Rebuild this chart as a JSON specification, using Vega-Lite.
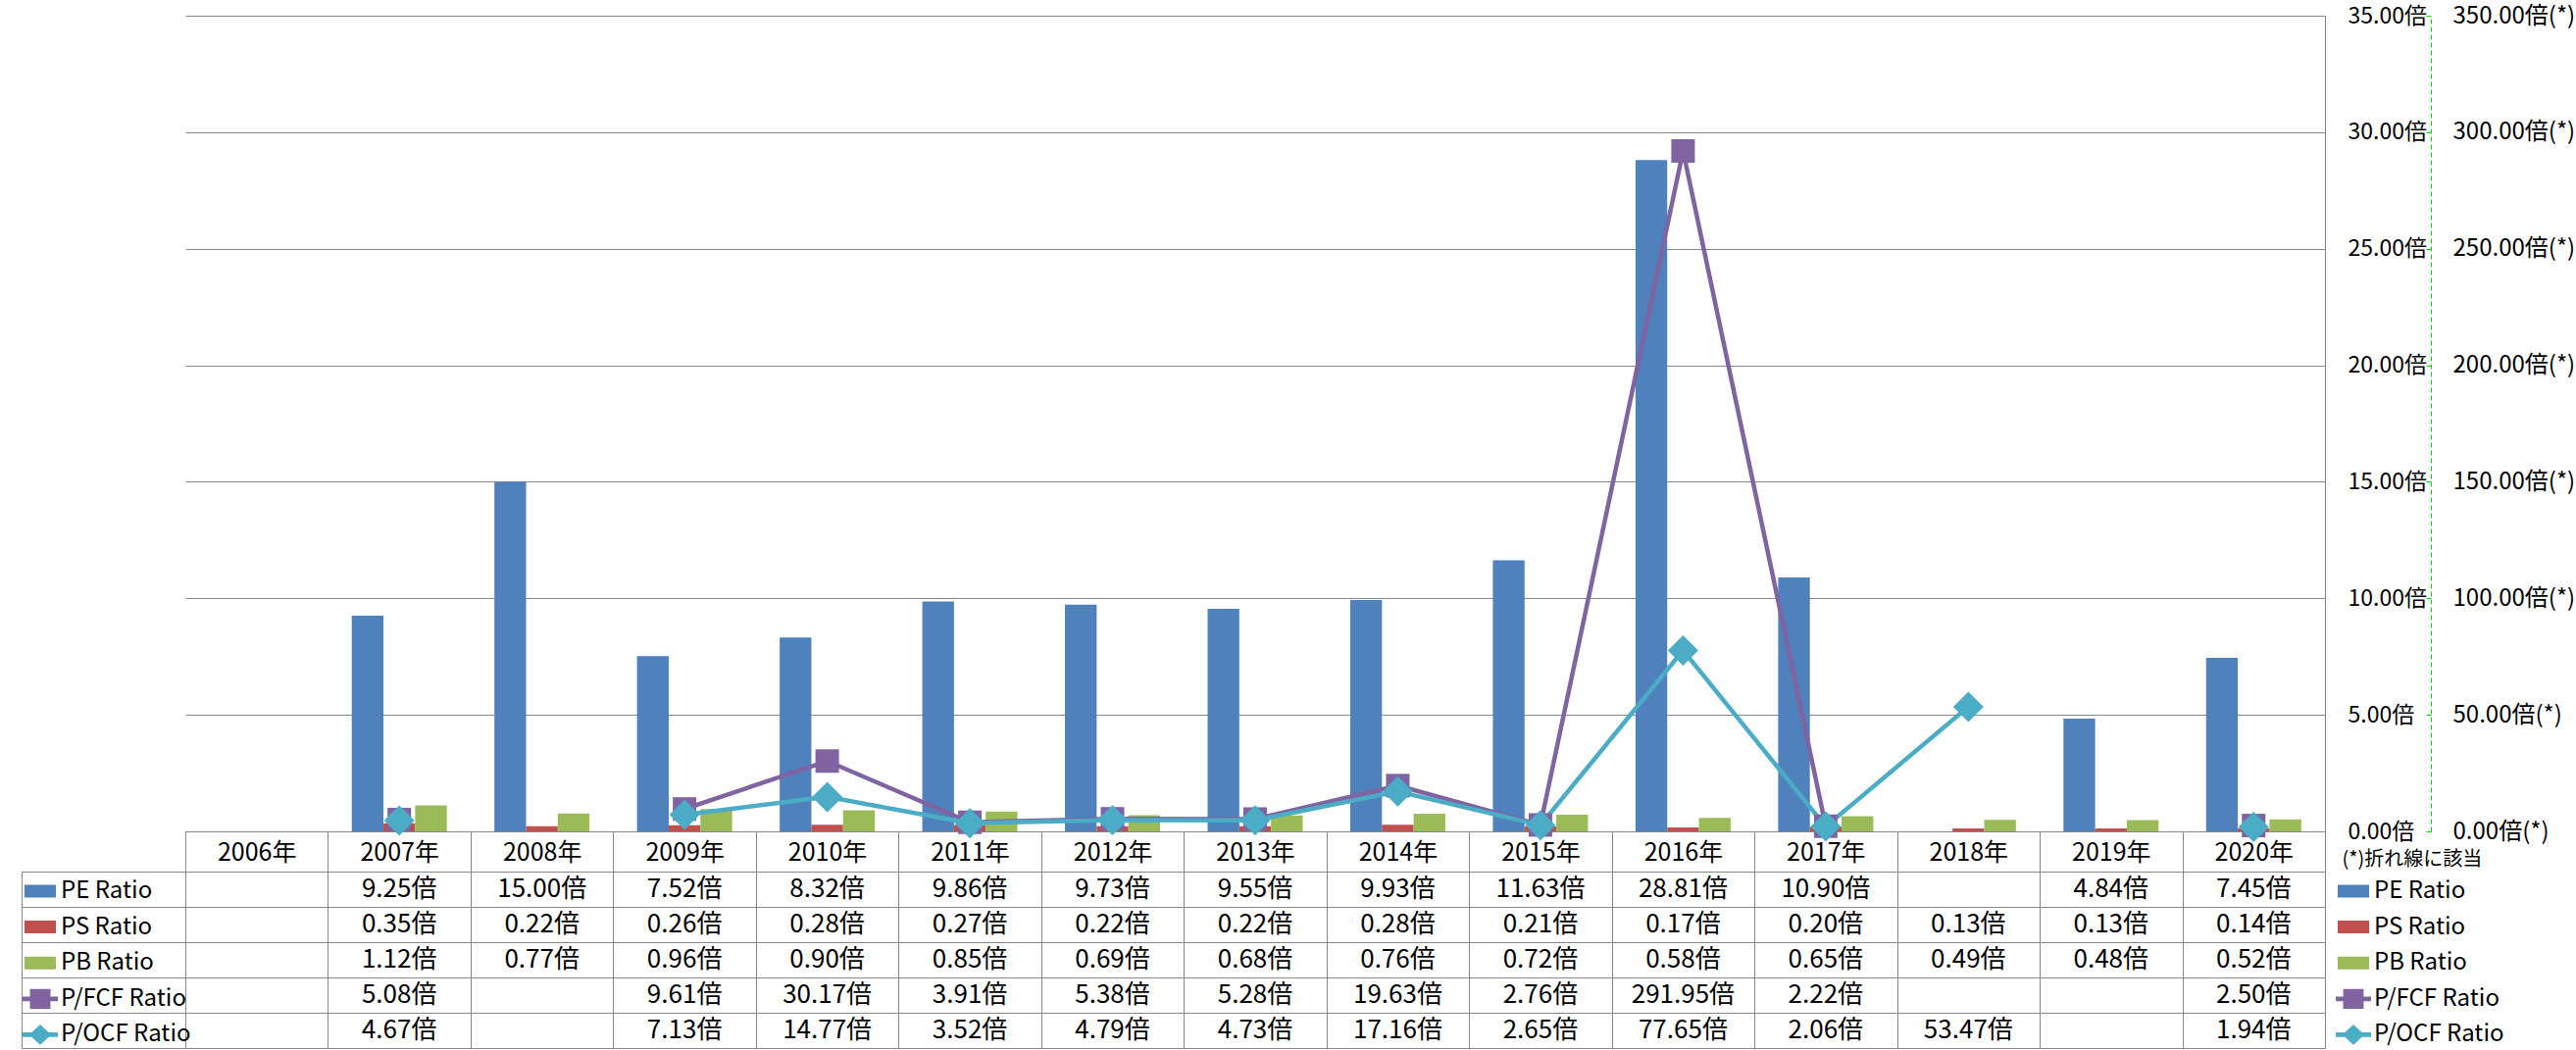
{
  "$schema": "https://vega.github.io/schema/vega-lite/v6.json",
  "padding": {"left": 21, "top": 4, "right": 5, "bottom": 2},
  "background": "white",
  "config": {
    "font": "Noto Sans CJK JP",
    "view": {"stroke": null},
    "axis": {"labelColor": "#000000", "titleColor": "#000000"},
    "legend": {"labelColor": "#000000"}
  },
  "datasets": {
    "r": [
      {"year": "2006年", "series": "PE Ratio", "value": null},
      {"year": "2006年", "series": "PS Ratio", "value": null},
      {"year": "2006年", "series": "PB Ratio", "value": null},
      {"year": "2006年", "series": "P/FCF Ratio", "value": null},
      {"year": "2006年", "series": "P/OCF Ratio", "value": null},
      {"year": "2007年", "series": "PE Ratio", "value": 9.25, "label": "9.25倍"},
      {"year": "2007年", "series": "PS Ratio", "value": 0.35, "label": "0.35倍"},
      {"year": "2007年", "series": "PB Ratio", "value": 1.12, "label": "1.12倍"},
      {"year": "2007年", "series": "P/FCF Ratio", "value": 5.08, "label": "5.08倍"},
      {"year": "2007年", "series": "P/OCF Ratio", "value": 4.67, "label": "4.67倍"},
      {"year": "2008年", "series": "PE Ratio", "value": 15.00, "label": "15.00倍"},
      {"year": "2008年", "series": "PS Ratio", "value": 0.22, "label": "0.22倍"},
      {"year": "2008年", "series": "PB Ratio", "value": 0.77, "label": "0.77倍"},
      {"year": "2008年", "series": "P/FCF Ratio", "value": null},
      {"year": "2008年", "series": "P/OCF Ratio", "value": null},
      {"year": "2009年", "series": "PE Ratio", "value": 7.52, "label": "7.52倍"},
      {"year": "2009年", "series": "PS Ratio", "value": 0.26, "label": "0.26倍"},
      {"year": "2009年", "series": "PB Ratio", "value": 0.96, "label": "0.96倍"},
      {"year": "2009年", "series": "P/FCF Ratio", "value": 9.61, "label": "9.61倍"},
      {"year": "2009年", "series": "P/OCF Ratio", "value": 7.13, "label": "7.13倍"},
      {"year": "2010年", "series": "PE Ratio", "value": 8.32, "label": "8.32倍"},
      {"year": "2010年", "series": "PS Ratio", "value": 0.28, "label": "0.28倍"},
      {"year": "2010年", "series": "PB Ratio", "value": 0.90, "label": "0.90倍"},
      {"year": "2010年", "series": "P/FCF Ratio", "value": 30.17, "label": "30.17倍"},
      {"year": "2010年", "series": "P/OCF Ratio", "value": 14.77, "label": "14.77倍"},
      {"year": "2011年", "series": "PE Ratio", "value": 9.86, "label": "9.86倍"},
      {"year": "2011年", "series": "PS Ratio", "value": 0.27, "label": "0.27倍"},
      {"year": "2011年", "series": "PB Ratio", "value": 0.85, "label": "0.85倍"},
      {"year": "2011年", "series": "P/FCF Ratio", "value": 3.91, "label": "3.91倍"},
      {"year": "2011年", "series": "P/OCF Ratio", "value": 3.52, "label": "3.52倍"},
      {"year": "2012年", "series": "PE Ratio", "value": 9.73, "label": "9.73倍"},
      {"year": "2012年", "series": "PS Ratio", "value": 0.22, "label": "0.22倍"},
      {"year": "2012年", "series": "PB Ratio", "value": 0.69, "label": "0.69倍"},
      {"year": "2012年", "series": "P/FCF Ratio", "value": 5.38, "label": "5.38倍"},
      {"year": "2012年", "series": "P/OCF Ratio", "value": 4.79, "label": "4.79倍"},
      {"year": "2013年", "series": "PE Ratio", "value": 9.55, "label": "9.55倍"},
      {"year": "2013年", "series": "PS Ratio", "value": 0.22, "label": "0.22倍"},
      {"year": "2013年", "series": "PB Ratio", "value": 0.68, "label": "0.68倍"},
      {"year": "2013年", "series": "P/FCF Ratio", "value": 5.28, "label": "5.28倍"},
      {"year": "2013年", "series": "P/OCF Ratio", "value": 4.73, "label": "4.73倍"},
      {"year": "2014年", "series": "PE Ratio", "value": 9.93, "label": "9.93倍"},
      {"year": "2014年", "series": "PS Ratio", "value": 0.28, "label": "0.28倍"},
      {"year": "2014年", "series": "PB Ratio", "value": 0.76, "label": "0.76倍"},
      {"year": "2014年", "series": "P/FCF Ratio", "value": 19.63, "label": "19.63倍"},
      {"year": "2014年", "series": "P/OCF Ratio", "value": 17.16, "label": "17.16倍"},
      {"year": "2015年", "series": "PE Ratio", "value": 11.63, "label": "11.63倍"},
      {"year": "2015年", "series": "PS Ratio", "value": 0.21, "label": "0.21倍"},
      {"year": "2015年", "series": "PB Ratio", "value": 0.72, "label": "0.72倍"},
      {"year": "2015年", "series": "P/FCF Ratio", "value": 2.76, "label": "2.76倍"},
      {"year": "2015年", "series": "P/OCF Ratio", "value": 2.65, "label": "2.65倍"},
      {"year": "2016年", "series": "PE Ratio", "value": 28.81, "label": "28.81倍"},
      {"year": "2016年", "series": "PS Ratio", "value": 0.17, "label": "0.17倍"},
      {"year": "2016年", "series": "PB Ratio", "value": 0.58, "label": "0.58倍"},
      {"year": "2016年", "series": "P/FCF Ratio", "value": 291.95, "label": "291.95倍"},
      {"year": "2016年", "series": "P/OCF Ratio", "value": 77.65, "label": "77.65倍"},
      {"year": "2017年", "series": "PE Ratio", "value": 10.90, "label": "10.90倍"},
      {"year": "2017年", "series": "PS Ratio", "value": 0.20, "label": "0.20倍"},
      {"year": "2017年", "series": "PB Ratio", "value": 0.65, "label": "0.65倍"},
      {"year": "2017年", "series": "P/FCF Ratio", "value": 2.22, "label": "2.22倍"},
      {"year": "2017年", "series": "P/OCF Ratio", "value": 2.06, "label": "2.06倍"},
      {"year": "2018年", "series": "PE Ratio", "value": null},
      {"year": "2018年", "series": "PS Ratio", "value": 0.13, "label": "0.13倍"},
      {"year": "2018年", "series": "PB Ratio", "value": 0.49, "label": "0.49倍"},
      {"year": "2018年", "series": "P/FCF Ratio", "value": null},
      {"year": "2018年", "series": "P/OCF Ratio", "value": 53.47, "label": "53.47倍"},
      {"year": "2019年", "series": "PE Ratio", "value": 4.84, "label": "4.84倍"},
      {"year": "2019年", "series": "PS Ratio", "value": 0.13, "label": "0.13倍"},
      {"year": "2019年", "series": "PB Ratio", "value": 0.48, "label": "0.48倍"},
      {"year": "2019年", "series": "P/FCF Ratio", "value": null},
      {"year": "2019年", "series": "P/OCF Ratio", "value": null},
      {"year": "2020年", "series": "PE Ratio", "value": 7.45, "label": "7.45倍"},
      {"year": "2020年", "series": "PS Ratio", "value": 0.14, "label": "0.14倍"},
      {"year": "2020年", "series": "PB Ratio", "value": 0.52, "label": "0.52倍"},
      {"year": "2020年", "series": "P/FCF Ratio", "value": 2.50, "label": "2.50倍"},
      {"year": "2020年", "series": "P/OCF Ratio", "value": 1.94, "label": "1.94倍"}
    ]
  },
  "spacing": 41,
  "bounds": "flush",
  "resolve": {"scale": {"color": "independent"}, "legend": {"color": "independent"}},
  "vconcat": [
    {
      "width": 2182,
      "height": 832,
      "data": {"name": "r"},
      "encoding": {
        "x": {
          "field": "year", "type": "nominal", "sort": null,
          "scale": {"domain": ["2006年","2007年","2008年","2009年","2010年","2011年","2012年","2013年","2014年","2015年","2016年","2017年","2018年","2019年","2020年"], "paddingInner": 0, "paddingOuter": 0},
          "axis": {
            "orient": "bottom", "title": "(*)折れ線に該当", "titleX": 2199, "titleY": 28, "titleAlign": "left", "titleBaseline": "middle", "titleAnchor": "start",
            "titleFontSize": 20, "titleFontWeight": "normal",
            "domain": true, "domainColor": "#868686", "domainWidth": 1,
            "ticks": true, "tickBand": "extent", "tickSize": 41, "tickColor": "#868686", "tickWidth": 1,
            "labelFontSize": 25, "labelBaseline": "middle", "labelPadding": -20, "labelAngle": 0, "labelOverlap": false, "labelBound": false,
            "grid": false
          }
        },
        "color": {
          "field": "series", "type": "nominal",
          "scale": {"domain": ["PE Ratio","PS Ratio","PB Ratio","P/FCF Ratio","P/OCF Ratio"], "range": ["#4F81BD","#C0504D","#9BBB59","#8064A2","#4BACC6"]},
          "legend": {
            "orient": "none", "legendX": 2193, "legendY": 875, "title": null,
            "symbolSize": 1296, "symbolStrokeWidth": 0, "rowPadding": 6.6, "labelOffset": 3, "labelFontSize": 24, "labelLimit": 0,
            "encode": {"symbols": {"update": {
              "shape": {"signal": "datum.value === 'P/FCF Ratio' ? 'M-1,-0.13H1V0.13H-1Z M-0.58,-0.56H0.58V0.56H-0.58Z' : datum.value === 'P/OCF Ratio' ? 'M-1,-0.13H1V0.13H-1Z M0,-0.58L0.62,0L0,0.58L-0.62,0Z' : 'M-0.89,-0.36H0.89V0.36H-0.89Z'"},
              "fill": {"signal": "datum.value === 'PE Ratio' ? '#4F81BD' : datum.value === 'PS Ratio' ? '#C0504D' : datum.value === 'PB Ratio' ? '#9BBB59' : datum.value === 'P/FCF Ratio' ? '#8064A2' : '#4BACC6'"},
              "strokeWidth": {"value": 0},
              "opacity": {"value": 1}
            }}}
          }
        }
      },
      "layer": [
        {
          "transform": [{"filter": {"field": "series", "oneOf": ["PE Ratio","PS Ratio","PB Ratio"]}}],
          "mark": {"type": "bar"},
          "encoding": {
            "xOffset": {"field": "series", "type": "nominal", "sort": null, "scale": {"domain": ["PE Ratio","PS Ratio","PB Ratio"], "paddingInner": 0, "paddingOuter": 0.75}},
            "y": {
              "field": "value", "type": "quantitative",
              "scale": {"domain": [0, 35], "nice": false, "zero": true},
              "axis": {
                "orient": "right", "values": [0,5,10,15,20,25,30,35], "title": null,
                "grid": true, "gridColor": "#868686", "gridWidth": 1,
                "domain": true, "domainColor": "#868686", "domainWidth": 1,
                "ticks": false, "tickSize": 0,
                "labelPadding": 23, "labelAlign": "left", "labelFontSize": 23,
                "labelExpr": "format(datum.value, '.2f') + '倍'"
              }
            }
          }
        },
        {
          "transform": [{"filter": {"field": "series", "oneOf": ["P/FCF Ratio","P/OCF Ratio"]}}],
          "encoding": {
            "y": {
              "field": "value", "type": "quantitative",
              "scale": {"domain": [0, 350], "nice": false, "zero": true},
              "axis": {
                "orient": "right", "offset": 108, "values": [0,50,100,150,200,250,300,350], "title": null,
                "grid": false,
                "domain": true, "domainColor": "#00DD00", "domainDash": [5, 3], "domainWidth": 1,
                "ticks": true, "tickSize": -5, "tickColor": "#00DD00",
                "labelPadding": 27, "labelAlign": "left", "labelFontSize": 24,
                "labelExpr": "format(datum.value, '.2f') + '倍(*)'"
              }
            }
          },
          "layer": [
            {"mark": {"type": "line", "strokeWidth": 4.5, "invalid": "break-paths-show-domains"}},
            {"transform": [{"filter": {"field": "series", "equal": "P/FCF Ratio"}}, {"filter": "datum.value != null"}],
             "mark": {"type": "point", "shape": "square", "filled": true, "size": 576, "opacity": 1}},
            {"transform": [{"filter": {"field": "series", "equal": "P/OCF Ratio"}}, {"filter": "datum.value != null"}],
             "mark": {"type": "point", "shape": "diamond", "filled": true, "size": 961, "opacity": 1}}
          ]
        }
      ],
      "resolve": {"scale": {"y": "independent"}}
    },
    {
      "width": 2182,
      "height": 180,
      "data": {"name": "r"},
      "encoding": {
        "x": {
          "field": "year", "type": "nominal", "sort": null,
          "scale": {"domain": ["2006年","2007年","2008年","2009年","2010年","2011年","2012年","2013年","2014年","2015年","2016年","2017年","2018年","2019年","2020年"], "paddingInner": 0, "paddingOuter": 0},
          "axis": {"orient": "top", "labels": false, "ticks": false, "domain": false, "grid": true, "tickBand": "extent", "gridColor": "#868686", "gridWidth": 1, "title": null}
        },
        "y": {
          "field": "series", "type": "nominal", "sort": null,
          "scale": {"domain": ["PE Ratio","PS Ratio","PB Ratio","P/FCF Ratio","P/OCF Ratio"], "paddingInner": 0, "paddingOuter": 0},
          "axis": {"orient": "left", "offset": 167, "labels": false, "title": null,
                   "domain": true, "domainColor": "#868686", "domainWidth": 1,
                   "ticks": true, "tickBand": "extent", "tickSize": -167, "tickColor": "#868686", "tickWidth": 1,
                   "grid": true, "gridColor": "#868686", "gridWidth": 1}
        }
      },
      "layer": [
        {
          "transform": [{"filter": "datum.label != null"}],
          "mark": {"type": "text", "fontSize": 26, "color": "#000000", "baseline": "middle", "align": "center"},
          "encoding": {"text": {"field": "label", "type": "nominal"}}
        },
        {
          "transform": [{"filter": {"field": "series", "equal": "none"}}],
          "mark": {"type": "bar"},
          "encoding": {
            "color": {
              "field": "series", "type": "nominal",
              "scale": {"domain": ["PE Ratio","PS Ratio","PB Ratio","P/FCF Ratio","P/OCF Ratio"], "range": ["#4F81BD","#C0504D","#9BBB59","#8064A2","#4BACC6"]},
              "legend": {
                "orient": "none", "legendX": -166, "legendY": 2, "title": null,
                "symbolSize": 1296, "symbolStrokeWidth": 0, "rowPadding": 6.6, "labelOffset": 3, "labelFontSize": 24, "labelLimit": 0,
                "encode": {"symbols": {"update": {
                  "shape": {"signal": "datum.value === 'P/FCF Ratio' ? 'M-1,-0.13H1V0.13H-1Z M-0.58,-0.56H0.58V0.56H-0.58Z' : datum.value === 'P/OCF Ratio' ? 'M-1,-0.13H1V0.13H-1Z M0,-0.58L0.62,0L0,0.58L-0.62,0Z' : 'M-0.89,-0.36H0.89V0.36H-0.89Z'"},
                  "fill": {"signal": "datum.value === 'PE Ratio' ? '#4F81BD' : datum.value === 'PS Ratio' ? '#C0504D' : datum.value === 'PB Ratio' ? '#9BBB59' : datum.value === 'P/FCF Ratio' ? '#8064A2' : '#4BACC6'"},
                  "strokeWidth": {"value": 0},
                  "opacity": {"value": 1}
                }}}
              }
            }
          }
        }
      ]
    }
  ]
}
